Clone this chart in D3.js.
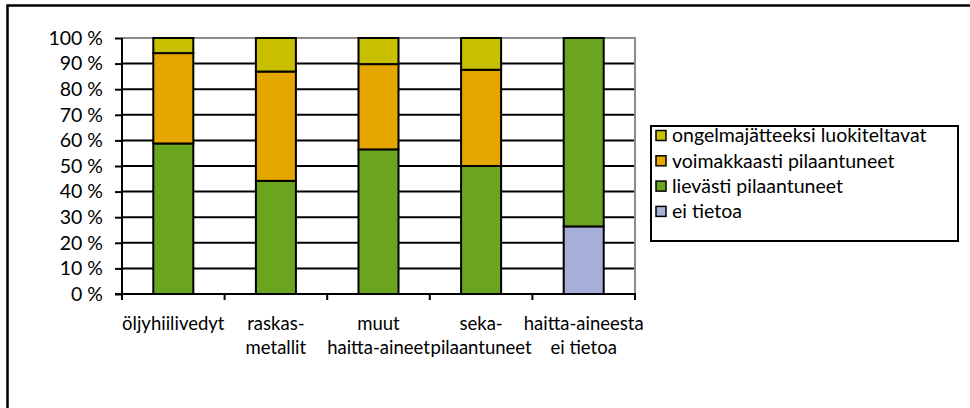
<!DOCTYPE html>
<html>
<head>
<meta charset="utf-8">
<script src="https://cdn.jsdelivr.net/npm/d3@7"></script>
<style>
	body { margin: 0; background: #fff; }
	svg text { font-family: Lato, "Open Sans", sans-serif; fill: #000; }
</style>
</head>
<body>
<div id="content"></div>
<script>
var categories = [
	["öljyhiilivedyt"],
	["raskas-", "metallit"],
	["muut", "haitta-aineet"],
	["seka-", "pilaantuneet"],
	["haitta-aineesta", "ei tietoa"]
];

var seriesNames = [
	"ei tietoa",
	"lievästi pilaantuneet",
	"voimakkaasti pilaantuneet",
	"ongelmajätteeksi luokiteltavat"
];

// percent shares
var eiTietoa     = [0, 0, 0, 0, 26.4];
var lievasti     = [58.8, 44.2, 56.5, 50.0, 73.6];
var voimakkaasti = [35.3, 42.7, 33.3, 37.6, 0];
var ongelma      = [5.9, 13.1, 10.2, 12.4, 0];

var yTicks = [0, 10, 20, 30, 40, 50, 60, 70, 80, 90, 100];

var colors = ["#a6afd7", "#6ba520", "#e5a600", "#c8bf00"];

var width = 970, height = 408;
var plot = { left: 122, right: 635, top: 38, bottom: 294 };
var fs = 18.5;

var svg = d3.select("#content").append("svg")
	.attr("width", width).attr("height", height);

// outer frame (only top and left visible)
svg.append("path")
	.attr("d", "M7.5," + height + "V5.5H" + width)
	.attr("fill", "none").attr("stroke", "#000").attr("stroke-width", 2.5);

var rows = categories.map(function (c, i) {
	return { key: i, e: eiTietoa[i], l: lievasti[i], v: voimakkaasti[i], o: ongelma[i] };
});
var stacked = d3.stack().keys(["e", "l", "v", "o"])(rows);

var x = d3.scaleBand().domain(d3.range(categories.length))
	.range([plot.left, plot.right]).paddingInner(0.61).paddingOuter(0.305);
var y = d3.scaleLinear().domain([0, 100]).range([plot.bottom, plot.top]);

// gridlines
svg.append("g").selectAll("line").data(yTicks.filter(function (d) { return d > 0 && d < 100; }))
	.enter().append("line")
	.attr("x1", plot.left).attr("x2", plot.right)
	.attr("y1", function (d) { return y(d); }).attr("y2", function (d) { return y(d); })
	.attr("stroke", "#000").attr("stroke-width", 2);

// plot border top/right in gray
svg.append("path")
	.attr("d", "M" + plot.left + "," + y(100) + "H" + plot.right + "V" + plot.bottom)
	.attr("fill", "none").attr("stroke", "#8c8c8c").attr("stroke-width", 2);

// bars
svg.append("g").selectAll("g").data(stacked).enter().append("g")
	.attr("fill", function (d, i) { return colors[i]; })
	.selectAll("rect").data(function (d) { return d.filter(function (p) { return p[1] - p[0] > 0; }); })
	.enter().append("rect")
	.attr("x", function (d) { return x(d.data.key); })
	.attr("width", x.bandwidth())
	.attr("y", function (d) { return y(d[1]); })
	.attr("height", function (d) { return y(d[0]) - y(d[1]); })
	.attr("stroke", "#000").attr("stroke-width", 2);

// y axis
var yAxis = svg.append("g").attr("transform", "translate(" + plot.left + ",0)")
	.call(d3.axisLeft(y).tickValues(yTicks).tickSize(7).tickPadding(12)
		.tickFormat(function (d) { return d + " %"; }));
yAxis.select(".domain").remove();
yAxis.selectAll(".tick line").attr("stroke", "#000").attr("stroke-width", 2);
yAxis.selectAll(".tick text").attr("font-size", 19.5).attr("font-family", null);
svg.append("line").attr("x1", plot.left).attr("x2", plot.left)
	.attr("y1", plot.top).attr("y2", plot.bottom + 1)
	.attr("stroke", "#000").attr("stroke-width", 2);

// x axis
var step = x.step();
var xEdges = d3.range(categories.length + 1).map(function (i) { return plot.left + i * step; });
svg.append("line").attr("x1", plot.left - 7).attr("x2", plot.right + 1)
	.attr("y1", plot.bottom).attr("y2", plot.bottom)
	.attr("stroke", "#000").attr("stroke-width", 2);
svg.append("g").selectAll("line").data(xEdges).enter().append("line")
	.attr("x1", function (d) { return d; }).attr("x2", function (d) { return d; })
	.attr("y1", plot.bottom).attr("y2", plot.bottom + 6)
	.attr("stroke", "#000").attr("stroke-width", 2);

svg.append("g").selectAll("text").data(categories).enter().append("text")
	.attr("text-anchor", "middle").attr("font-size", fs)
	.attr("x", function (d, i) { return x(i) + x.bandwidth() / 2; })
	.attr("y", 330)
	.each(function (d) {
		var t = d3.select(this);
		d.forEach(function (line, j) {
			t.append("tspan").attr("x", t.attr("x")).attr("dy", j ? 24 : 0).text(line);
		});
	});

// legend
var legend = svg.append("g");
legend.append("rect").attr("x", 651).attr("y", 126).attr("width", 307).attr("height", 115)
	.attr("fill", "#fff").attr("stroke", "#000").attr("stroke-width", 2);
var order = [3, 2, 1, 0];
var item = legend.selectAll("g.item").data(order).enter().append("g")
	.attr("transform", function (d, i) { return "translate(656," + (135.5 + i * 25.3) + ")"; });
item.append("rect").attr("x", 0).attr("y", -5).attr("width", 10).attr("height", 10)
	.attr("fill", function (d) { return colors[d]; })
	.attr("stroke", "#000").attr("stroke-width", 1.5);
item.append("text").attr("x", 16).attr("dy", "0.35em").attr("font-size", 19.5)
	.text(function (d) { return seriesNames[d]; });
</script>
</body>
</html>
